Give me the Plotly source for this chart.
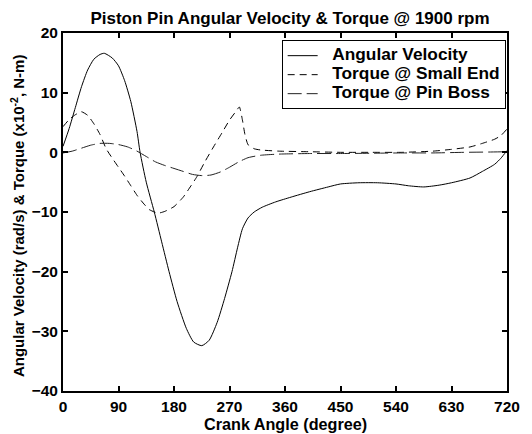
import plotly.graph_objects as go

# Angular velocity (rad/s)
av_deg = [0, 10, 20, 30, 40, 50, 60, 67, 80, 90, 100, 110, 120, 125, 135, 148, 160, 172, 185, 200,
          212, 225, 237, 250, 262, 274, 283, 291, 300, 310, 323, 345, 370, 400, 430, 450, 480, 510,
          540, 560, 585, 610, 630, 660, 680, 700, 710, 720]
av_val = [1.0, 4.0, 7.5, 11.0, 13.8, 15.6, 16.4, 16.6, 15.8, 14.5, 12.0, 8.5, 3.5, 0.0, -5.0, -10.0,
          -15.0, -20.0, -25.0, -29.5, -31.8, -32.4, -31.5, -28.5, -24.5, -20.0, -16.0, -12.8, -11.0,
          -10.0, -9.2, -8.3, -7.5, -6.6, -5.8, -5.3, -5.1, -5.1, -5.3, -5.6, -5.8, -5.5, -5.1, -4.3,
          -3.2, -2.0, -1.0, 0.3]

# Torque @ small end (x1e-2 N-m)
se_deg = [0, 10, 20, 30, 40, 50, 60, 70, 80, 90, 100, 110, 120, 130, 140, 154, 165, 180, 195, 205,
          217, 230, 244, 258, 270, 280, 286, 291, 295, 300, 310, 320, 350, 400, 450, 500, 550, 600,
          630, 660, 680, 700, 710, 720]
se_val = [4.3, 5.5, 6.3, 6.8, 6.2, 4.8, 3.0, 0.6, -1.0, -2.5, -4.0, -5.6, -7.2, -8.5, -9.6, -10.2,
          -9.9, -9.1, -7.5, -6.0, -4.1, -1.6, 0.9, 3.3, 5.4, 6.8, 7.6, 5.4, 3.0, 1.3, 0.6, 0.4, 0.2,
          0.1, 0.0, 0.0, 0.0, 0.2, 0.5, 0.9, 1.5, 2.2, 2.8, 3.9]

# Torque @ pin boss (x1e-2 N-m)
pb_deg = [0, 15, 30, 45, 60, 75, 90, 105, 120, 135, 150, 165, 180, 195, 210, 225, 240, 255, 270,
          285, 300, 320, 350, 400, 450, 500, 550, 600, 650, 690, 720]
pb_val = [-0.1, 0.2, 0.7, 1.2, 1.5, 1.5, 1.3, 0.9, 0.2, -0.7, -1.6, -2.2, -2.7, -3.2, -3.7, -3.9,
          -3.8, -3.3, -2.5, -1.6, -0.9, -0.5, -0.3, -0.2, -0.2, -0.15, -0.1, -0.1, 0.0, 0.05, 0.1]

series_names = ["Angular Velocity", "Torque @ Small End", "Torque @ Pin Boss"]

x_ticks = [0, 90, 180, 270, 360, 450, 540, 630, 720]
y_ticks = [-40, -30, -20, -10, 0, 10, 20]

FONT = "Liberation Sans, Arial, sans-serif"

# the page body has an 8px margin, so the figure is drawn 8px smaller and offset
W, H = 532 - 8, 434 - 8


def leg(name):
    return '<span style="font-size:17.3px">&nbsp;&nbsp;' + name + '</span>'


fig = go.Figure()
fig.add_trace(go.Scatter(x=av_deg, y=av_val, mode="lines", name=leg(series_names[0]),
                         legendgroup="a",
                         line=dict(color="black", width=1, shape="spline", smoothing=0.6)))
fig.add_trace(go.Scatter(x=se_deg, y=se_val, mode="lines", name=leg(series_names[1]),
                         legendgroup="b",
                         line=dict(color="black", width=1, dash="7px,5px", shape="spline", smoothing=0.5)))
fig.add_trace(go.Scatter(x=pb_deg, y=pb_val, mode="lines", name=leg(series_names[2]),
                         legendgroup="c",
                         line=dict(color="#222222", width=1, dash="14px,5px", shape="spline", smoothing=0.6)))

axis_common = dict(
    showgrid=False, zeroline=False, showline=True, linecolor="black", linewidth=2,
    mirror="ticks", ticks="inside", ticklen=5, tickwidth=2, tickcolor="black",
    tickfont=dict(family=FONT, size=15.5, color="black", weight="bold"),
)

fig.update_layout(
    width=W, height=H,
    margin=dict(l=55, r=15, t=25, b=43),
    paper_bgcolor="white", plot_bgcolor="white",
    title=dict(text="Piston Pin Angular Velocity & Torque @ 1900 rpm",
               x=282 / W, xanchor="center", y=1 - 4 / H, yanchor="top",
               font=dict(family=FONT, size=17, color="black", weight="bold")),
    xaxis=dict(range=[0, 720], tickvals=x_ticks, **axis_common),
    yaxis=dict(range=[-40, 20], tickvals=y_ticks, **axis_common),
    legend=dict(x=0.997, y=0.98, xanchor="right", yanchor="top",
                bgcolor="white", bordercolor="black", borderwidth=1,
                font=dict(family=FONT, size=12, color="black", weight="bold"),
                itemwidth=30, tracegroupgap=0),
    showlegend=True,
    annotations=[
        dict(text="Crank Angle (degree)", xref="paper", yref="paper",
             x=0.5, y=(391 - 424) / 358, xanchor="center", yanchor="middle", showarrow=False,
             font=dict(family=FONT, size=16.2, color="black", weight="bold")),
        dict(text="Angular Velocity (rad/s) & Torque (x10<sup>-2</sup>, N-m)", xref="paper", yref="paper",
             x=(16 - 63) / 454, y=(391 - 216) / 358, xanchor="center", yanchor="middle",
             textangle=-90, showarrow=False,
             font=dict(family=FONT, size=15, color="black", weight="bold")),
    ],
)

fig.write_html("out.html")
